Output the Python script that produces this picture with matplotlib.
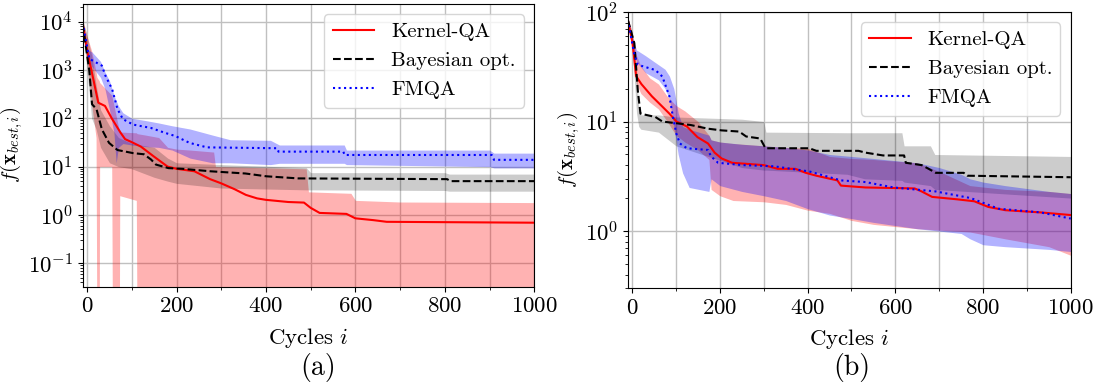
import matplotlib
matplotlib.use("Agg")
import matplotlib.pyplot as plt
from matplotlib.ticker import MultipleLocator

plt.rcParams['font.family'] = 'serif'
plt.rcParams['font.serif'] = ['cmr10', 'DejaVu Serif']
plt.rcParams['mathtext.fontset'] = 'cm'
plt.rcParams['axes.unicode_minus'] = False
plt.rcParams['axes.formatter.use_mathtext'] = True

# ---------------- panel (a) ----------------
# Kernel-QA
kqa_a_x = [-10, 0, 10, 25, 40, 55, 75, 85, 100, 120, 150, 180, 200, 240, 275, 300, 330, 355, 380, 400,
           450, 485, 500, 520, 580, 600, 640, 670, 1000]
kqa_a_y = [9000, 2500, 950, 210, 180, 100, 50, 37, 32, 26, 16, 10, 9, 8, 5.5, 4.5, 3.4, 2.6, 2.2, 2.05,
           1.85, 1.8, 1.4, 1.1, 1.05, 0.85, 0.78, 0.72, 0.69]
kqa_a_bx = [-10, 0, 10, 20, 22, 27, 28, 55, 57, 72, 73, 110, 112, 130, 160, 180, 200, 230, 283, 287,
            490, 495, 590, 600, 700, 1000]
kqa_a_lo = [8000, 1500, 200, 40, 1e-3, 1e-3, 10, 10, 1e-3, 1e-3, 2.5, 2.0, 1e-3, 1e-3, 1e-3, 1e-3,
            1e-3, 1e-3, 1e-3, 1e-3, 1e-3, 1e-3, 1e-3, 1e-3, 1e-3, 1e-3]
kqa_a_hi = [11000, 5000, 2500, 900, 700, 600, 550, 300, 250, 55, 52, 50, 48, 45, 40, 25, 23, 22, 20, 10,
            9, 3.0, 2.8, 2.0, 1.85, 1.8]

# Bayesian opt.
bo_a_x = [-10, 5, 11, 21, 33, 49, 68, 103, 127, 143, 154, 182, 213, 276, 354, 401, 472, 805, 813, 1000]
bo_a_y = [9000, 950, 195, 155, 59, 31, 22, 19, 18, 14, 11, 9.3, 9, 8, 7.2, 6.3, 5.7, 5.5, 5.0, 5.0]
bo_a_bx = [-10, 0, 10, 20, 30, 50, 70, 100, 150, 180, 200, 300, 490, 500, 800, 810, 1000]
bo_a_lo = [7000, 1000, 100, 60, 25, 12, 10, 9, 6, 5, 4.5, 3.6, 3.3, 3.3, 3.2, 3.1, 3.1]
bo_a_hi = [11000, 5000, 2000, 500, 150, 70, 40, 30, 25, 15, 12, 11, 9.5, 7.5, 7.5, 7.0, 7.0]

# FMQA
fm_a_x = [-10, 5, 33, 41, 56, 68, 80, 103, 143, 174, 197, 229, 268, 425, 428, 573, 576, 905, 910, 1000]
fm_a_y = [9500, 1700, 1230, 760, 400, 155, 96, 74, 63, 50, 43, 31, 25, 24, 20.4, 20.4, 17.4, 17.4, 13.8, 13.8]
fm_a_bx = [-10, 0, 10, 30, 40, 50, 60, 65, 70, 80, 100, 130, 160, 190, 230, 280, 320, 410, 430, 575,
           580, 900, 910, 1000]
fm_a_lo = [8000, 2000, 1200, 700, 400, 150, 50, 12, 25, 30, 28, 26, 25, 22, 15, 12, 12, 11, 11.7, 11.7,
           11, 10, 9.4, 9.4]
fm_a_hi = [11000, 2600, 2400, 1500, 900, 600, 300, 230, 180, 130, 100, 90, 80, 70, 60, 45, 36, 35, 28, 28,
           22, 22, 19, 19]

# ---------------- panel (b) ----------------
kqa_b_x = [-10, 1, 9, 21, 45, 61, 85, 101, 125, 149, 173, 188, 204, 228, 300, 332, 372, 396, 420, 468,
           476, 532, 644, 660, 684, 740, 780, 812, 851, 931, 1000]
kqa_b_y = [85, 52, 26, 22, 17, 14.7, 11.8, 10, 9, 7.2, 6.3, 5.2, 4.6, 4.2, 4.0, 3.7, 3.7, 3.4, 3.2, 2.9,
           2.6, 2.5, 2.45, 2.3, 2.05, 1.95, 1.87, 1.66, 1.55, 1.48, 1.4]
kqa_b_bx = [-10, 0, 10, 20, 40, 60, 80, 100, 120, 150, 175, 180, 200, 230, 300, 350, 400, 450, 500, 550,
            650, 700, 770, 850, 950, 1000]
kqa_b_lo = [80, 45, 22, 18, 15, 13, 10, 7.5, 6.5, 5.5, 4.5, 2.4, 2.1, 1.9, 1.85, 1.75, 1.55, 1.45, 1.25,
            1.15, 1.05, 1.02, 0.98, 0.85, 0.72, 0.6]
kqa_b_hi = [90, 65, 40, 32, 25, 22, 17, 14, 12.5, 10, 7.5, 6.8, 6.5, 6.3, 6.0, 5.8, 5.7, 4.8, 4.6, 4.5,
            4.2, 3.5, 2.6, 2.4, 2.3, 2.2]

bo_b_x = [-10, 5, 13, 19, 53, 69, 133, 173, 204, 244, 260, 292, 304, 404, 420, 516, 532, 572, 620, 624,
          660, 676, 692, 756, 764, 1000]
bo_b_y = [85, 52, 19, 11.8, 11, 10, 9.3, 8.6, 8.3, 8.1, 7.3, 7.0, 5.7, 5.7, 5.4, 5.4, 5.2, 4.9, 4.9, 4.2,
          4.0, 3.7, 3.4, 3.4, 3.2, 3.1]
bo_b_bx = [-10, 0, 10, 15, 20, 60, 100, 250, 300, 305, 490, 530, 615, 620, 680, 690, 1000]
bo_b_lo = [80, 50, 12, 9, 8.5, 8, 6, 3.8, 3.6, 3.6, 3.3, 3.0, 2.9, 2.8, 2.6, 2.4, 2.0]
bo_b_hi = [90, 65, 30, 13, 11.5, 11.5, 11, 10.5, 10, 8, 7.9, 7.9, 7.9, 6.0, 6.0, 5.0, 4.8]

fm_b_x = [-10, 5, 13, 53, 69, 85, 93, 101, 109, 125, 173, 180, 196, 252, 324, 404, 476, 532, 596, 692,
          772, 835, 931, 1000]
fm_b_y = [85, 41, 33, 29.5, 25.7, 17, 11, 7.7, 6.3, 5.7, 5.5, 4.8, 4.2, 4.0, 3.9, 3.5, 2.9, 2.8, 2.5, 2.3,
          2.0, 1.6, 1.48, 1.3]
fm_b_bx = [-10, 0, 10, 30, 60, 75, 85, 95, 105, 115, 130, 175, 180, 200, 250, 300, 350, 400, 450, 500,
           550, 650, 700, 750, 770, 800, 850, 950, 1000]
fm_b_lo = [80, 50, 35, 28, 24, 20, 16, 9, 5, 3.4, 2.5, 2.3, 3.0, 2.6, 2.3, 2.1, 1.9, 1.6, 1.4, 1.3,
           1.2, 1.05, 1.0, 0.95, 0.85, 0.75, 0.72, 0.68, 0.65]
fm_b_hi = [90, 60, 45, 40, 33, 30, 26, 20, 12, 9, 8.5, 7.5, 6.8, 6.5, 6.2, 6.0, 5.8, 5.5, 5.0, 4.8,
           4.6, 4.2, 3.8, 3.3, 3.0, 2.8, 2.6, 2.3, 2.2]

labels = ['Kernel-QA', 'Bayesian opt.', 'FMQA']
colors = ['r', 'k', 'b']
styles = ['-', '--', ':']
band_alpha = [0.3, 0.2, 0.3]

fig = plt.figure(figsize=(10.99, 3.87), dpi=100)
ax_a = fig.add_axes([0.0752, 0.2592, 0.4109, 0.7305])
ax_b = fig.add_axes([0.5712, 0.2550, 0.4031, 0.7140])

panels = [
    (ax_a, [(kqa_a_x, kqa_a_y, kqa_a_bx, kqa_a_lo, kqa_a_hi),
            (bo_a_x, bo_a_y, bo_a_bx, bo_a_lo, bo_a_hi),
            (fm_a_x, fm_a_y, fm_a_bx, fm_a_lo, fm_a_hi)], (0.0327, 2.32e4)),
    (ax_b, [(kqa_b_x, kqa_b_y, kqa_b_bx, kqa_b_lo, kqa_b_hi),
            (bo_b_x, bo_b_y, bo_b_bx, bo_b_lo, bo_b_hi),
            (fm_b_x, fm_b_y, fm_b_bx, fm_b_lo, fm_b_hi)], (0.30, 100)),
]

for ax, series, ylim in panels:
    for (mx, my, bx, lo, hi), lab, c, ls, al in zip(series, labels, colors, styles, band_alpha):
        ax.fill_between(bx, lo, hi, color=c, alpha=al, linewidth=0)
        ax.plot(mx, my, color=c, linestyle=ls, linewidth=1.5, label=lab)
    ax.set_yscale('log')
    ax.set_xlim(-10, 1000)
    ax.set_ylim(*ylim)
    ax.xaxis.set_major_locator(MultipleLocator(200))
    ax.xaxis.set_minor_locator(MultipleLocator(100))
    ax.grid(True, which='major', color='#c0c0c0', linewidth=1.0)
    ax.grid(True, which='minor', axis='x', color='#c0c0c0', linewidth=1.0)
    ax.set_axisbelow(True)
    ax.tick_params(labelsize=16.5)
    ax.set_xlabel('Cycles $i$', fontsize=16.5, labelpad=7)
    ax.set_ylabel(r'$f(\mathbf{x}_{best,i})$', fontsize=15, labelpad=2)
    ax.legend(loc='upper right', fontsize=15, handlelength=2.0)

fig.text(318 / 1099, 1 - 368 / 387, '(a)', fontsize=20, ha='center', va='center')
fig.text(852 / 1099, 1 - 368 / 387, '(b)', fontsize=20, ha='center', va='center')

fig.savefig('out.png', dpi=100)
